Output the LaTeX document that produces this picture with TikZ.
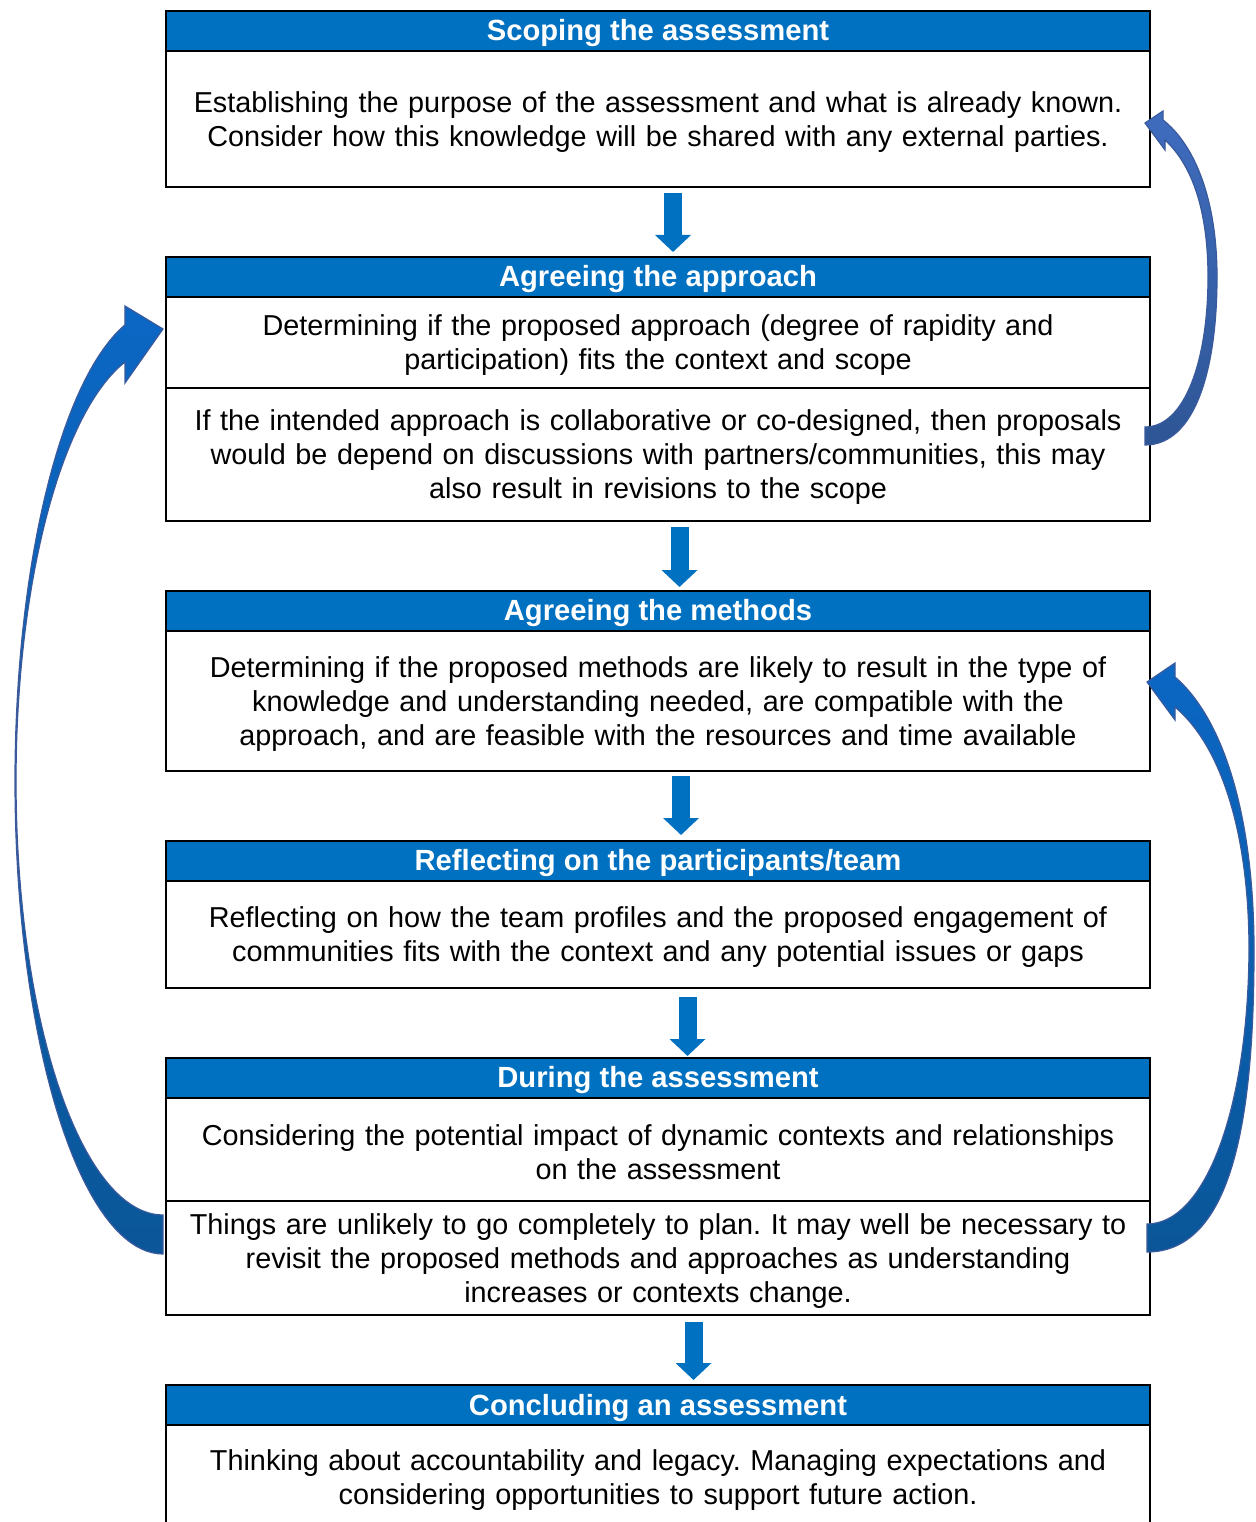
\documentclass[tikz,border=0pt]{standalone}
\usepackage{fontspec}
\setmainfont{Liberation Sans}
\frenchspacing
\usetikzlibrary{arrows.meta}
\definecolor{hdrblue}{HTML}{0070C0}
\definecolor{arrowedge}{HTML}{3A5A9C}
\definecolor{rtop}{HTML}{3F6CBE}
\definecolor{rbot}{HTML}{2E5696}
\definecolor{ctop}{HTML}{0B67C4}
\definecolor{cbot}{HTML}{0A5698}
\tikzset{
  boxbase/.style={draw=black, line width=2.2pt, minimum width=984pt, inner sep=0pt, outer sep=0pt},
  hdr/.style={boxbase, fill=hdrblue, minimum height=40pt},
  bodybox/.style={boxbase, fill=white},
  hdrtext/.style={inner sep=0pt, text=white, font=\fontsize{29.2pt}{34pt}\selectfont\bfseries},
  bodytext/.style={inner sep=0pt, text width=980pt, align=center, font=\fontsize{28.8pt}{34pt}\selectfont},
  dnarrow/.style={draw=hdrblue, line width=18pt, -{Triangle[width=35pt,length=17pt]}},
  curvearrow/.style={draw=arrowedge, line width=1.2pt, line join=miter}
}
\begin{document}
\begin{tikzpicture}[x=1pt,y=-1pt]
\clip (0,0) rectangle (1255,1522);
\fill[white] (0,0) rectangle (1255,1522);

% Box 1
\node[hdr] (h1) at (658,31) {};
\node[hdrtext] (h1t) at ([yshift=-2.5pt]h1.center) {Scoping the assessment};
\node[bodybox, minimum height=136pt] (b1) at (658,119) {};
\node[bodytext] (b1t) at ([yshift=-3pt]b1.center) {Establishing the purpose of the assessment and what is already known.\\Consider how this knowledge will be shared with any external parties.};

% Box 2
\node[hdr] (h2) at (658,277) {};
\node[hdrtext] (h2t) at ([yshift=-2.5pt]h2.center) {Agreeing the approach};
\node[bodybox, minimum height=91pt] (b2a) at (658,342.5) {};
\node[bodytext] (b2at) at ([yshift=-3pt]b2a.center) {Determining if the proposed approach (degree of rapidity and\\participation) fits the context and scope};
\node[bodybox, minimum height=133pt] (b2b) at (658,454.5) {};
\node[bodytext] (b2bt) at ([yshift=-3pt]b2b.center) {If the intended approach is collaborative or co-designed, then proposals\\would be depend on discussions with partners/communities, this may\\also result in revisions to the scope};

% Box 3
\node[hdr] (h3) at (658,611) {};
\node[hdrtext] (h3t) at ([yshift=-2.5pt]h3.center) {Agreeing the methods};
\node[bodybox, minimum height=140pt] (b3) at (658,701) {};
\node[bodytext] (b3t) at ([yshift=-3pt]b3.center) {Determining if the proposed methods are likely to result in the type of\\knowledge and understanding needed, are compatible with the\\approach, and are feasible with the resources and time available};

% Box 4
\node[hdr] (h4) at (658,861) {};
\node[hdrtext] (h4t) at ([yshift=-2.5pt]h4.center) {Reflecting on the participants/team};
\node[bodybox, minimum height=107pt] (b4) at (658,934.5) {};
\node[bodytext] (b4t) at ([yshift=-3pt]b4.center) {Reflecting on how the team profiles and the proposed engagement of\\communities fits with the context and any potential issues or gaps};

% Box 5
\node[hdr] (h5) at (658,1078) {};
\node[hdrtext] (h5t) at ([yshift=-2.5pt]h5.center) {During the assessment};
\node[bodybox, minimum height=103pt] (b5a) at (658,1149.5) {};
\node[bodytext] (b5at) at ([yshift=-3pt]b5a.center) {Considering the potential impact of dynamic contexts and relationships\\on the assessment};
\node[bodybox, minimum height=114pt] (b5b) at (658,1258) {};
\node[bodytext] (b5bt) at ([yshift=-3pt]b5b.center) {Things are unlikely to go completely to plan. It may well be necessary to\\revisit the proposed methods and approaches as understanding\\increases or contexts change.};

% Box 6
\node[hdr] (h6) at (658,1405) {};
\node[hdrtext] (h6t) at ([yshift=-2.5pt]h6.center) {Concluding an assessment};
\node[bodybox, minimum height=110pt] (b6) at (658,1480) {};
\node[bodytext] (b6t) at ([yshift=0pt]b6.center) {Thinking about accountability and legacy. Managing expectations and\\considering opportunities to support future action.};

% Straight down arrows
\draw[dnarrow] ([xshift=15pt,yshift=-6pt]b1.south) -- ([xshift=15pt,yshift=5pt]h2.north);
\draw[dnarrow] ([xshift=21.5pt,yshift=-6pt]b2b.south) -- ([xshift=21.5pt,yshift=4pt]h3.north);
\draw[dnarrow] ([xshift=23pt,yshift=-5pt]b3.south) -- ([xshift=23pt,yshift=6pt]h4.north);
\draw[dnarrow] ([xshift=29.5pt,yshift=-9pt]b4.south) -- ([xshift=29.5pt,yshift=2pt]h5.north);
\draw[dnarrow] ([xshift=35.5pt,yshift=-7pt]b5b.south) -- ([xshift=35.5pt,yshift=5pt]h6.north);

% Curved arrow: from "Agreeing the approach" back to "Scoping"
\path[curvearrow, top color=rtop, bottom color=rbot]
  (1145,445) .. controls (1195,445) and (1217,370) .. (1217,277)
  .. controls (1217,200) and (1195,145) .. (1163,120)
  -- (1163,111) -- (1145,123) -- (1165,150) -- (1165,140)
  .. controls (1192,165) and (1208,210) .. (1208,277)
  .. controls (1208,360) and (1185,427) .. (1145,427) -- cycle;

% Curved arrow: from "During" back to "Agreeing the methods"
\path[curvearrow, top color=ctop, bottom color=cbot]
  (1147,1252) .. controls (1235,1252) and (1254,1110) .. (1254,950)
  .. controls (1254,820) and (1225,720) .. (1175,677)
  -- (1175,663) -- (1147,682) -- (1175,720) -- (1175,707)
  .. controls (1220,745) and (1249,830) .. (1249,950)
  .. controls (1248,1110) and (1205,1224) .. (1147,1224) -- cycle;

% Curved arrow: from "During" back to "Agreeing the approach" (left side)
\path[curvearrow, top color=ctop, bottom color=cbot]
  plot[domain=90:255.1, samples=80, variable=\t] ({163+148*cos(\t)},{781.5+472.5*sin(\t)})
  -- (125,306) -- (163,329) -- (125,383) -- (125,362)
  -- plot[domain=255:90, samples=80, variable=\t] ({163+147*cos(\t)},{781.1+433.9*sin(\t)})
  -- cycle;
\end{tikzpicture}
\end{document}
